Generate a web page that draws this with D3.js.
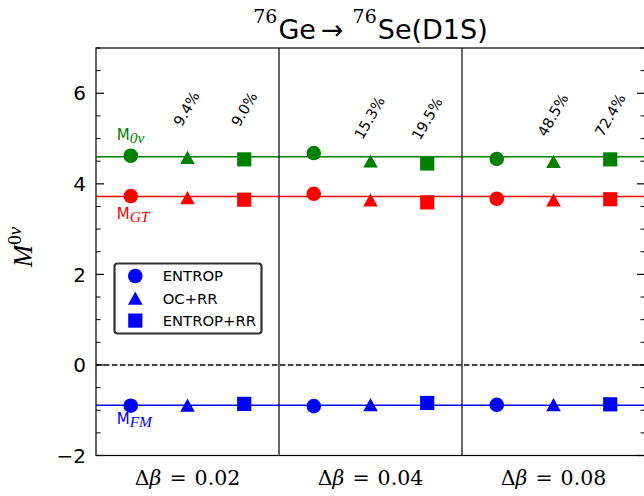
<!DOCTYPE html>
<html>
<head>
<meta charset="utf-8">
<script src="https://cdn.jsdelivr.net/npm/d3@7"></script>
<style>
  body { margin: 0; background: #fff; }
  svg { display: block; }
</style>
</head>
<body>
<svg id="chart" width="644" height="496"></svg>
<script>
// ---------------- data ----------------
const sections = ["0.02", "0.04", "0.08"];           // Δβ values
const methods = ["ENTROP", "OC+RR", "ENTROP+RR"];
const methodOffsets = [0.19, 0.5, 0.81];              // position of each method inside a section
const M0nu = [[4.62, 4.58, 4.54], [4.68, 4.50, 4.45], [4.55, 4.49, 4.54]];
const MGT  = [[3.73, 3.69, 3.65], [3.78, 3.64, 3.59], [3.67, 3.64, 3.66]];
const MFM  = [[-0.90, -0.89, -0.86], [-0.91, -0.88, -0.84], [-0.88, -0.88, -0.87]];
const refLines = { M0nu: 4.60, MGT: 3.72, MFM: -0.89 };
const pctLabels = ["9.4%", "9.0%", "15.3%", "19.5%", "48.5%", "72.4%"];
const pctX = [0.495, 0.81, 1.495, 1.81, 2.497, 2.81];
const pctY = [5.66, 5.65, 5.46, 5.44, 5.52, 5.52];
const yTicks = [-2, 0, 2, 4, 6];

// ---------------- layout ----------------
const svg = d3.select("#chart");
const L = 96, R = 645, T = 48, B = 455.5;
const x = d3.scaleLinear().domain([0, 3]).range([L, R]);
const y = d3.scaleLinear().domain([-2, 7]).range([B, T]);

const series = [
  { key: "M0nu", vals: M0nu, color: "#008000", main: "M", sub: "0ν", lx: 0.113, ly: 4.97 },
  { key: "MGT",  vals: MGT,  color: "#ff0000", main: "M", sub: "GT", lx: 0.113, ly: 3.22 },
  { key: "MFM",  vals: MFM,  color: "#0000ff", main: "M", sub: "FM", lx: 0.113, ly: -1.31 }
];

const shapes = [
  "M0,0m-7.3,0a7.3,7.3 0 1,0 14.6,0a7.3,7.3 0 1,0 -14.6,0Z",
  "M0,-6.8L7.3,6.4L-7.3,6.4Z",
  "M-7.1,-7.1H7.1V7.1H-7.1Z"
];

const g = svg.append("g");

// zero dashed line
g.append("line")
  .attr("x1", x(0)).attr("x2", x(3))
  .attr("y1", y(0)).attr("y2", y(0))
  .attr("stroke", "#000").attr("stroke-width", 1.5)
  .attr("stroke-dasharray", "5.5,2.5");

// reference horizontal lines
series.forEach(s => {
  g.append("line")
    .attr("x1", x(0)).attr("x2", x(3))
    .attr("y1", y(refLines[s.key])).attr("y2", y(refLines[s.key]))
    .attr("stroke", s.color).attr("stroke-width", 1.5);
});

// section dividers
[1, 2].forEach(v => {
  g.append("line")
    .attr("x1", x(v)).attr("x2", x(v))
    .attr("y1", y(7)).attr("y2", y(-2))
    .attr("stroke", "#000").attr("stroke-width", 1.2);
});

// markers
series.forEach(s => {
  s.vals.forEach((row, si) => {
    row.forEach((v, mi) => {
      g.append("path")
        .attr("d", shapes[mi])
        .attr("transform", `translate(${x(si + methodOffsets[mi])},${y(v)})`)
        .attr("fill", s.color);
    });
  });
});

// series labels
series.forEach(s => {
  const t = g.append("text")
    .attr("x", x(s.lx)).attr("y", y(s.ly))
    .attr("fill", s.color)
    .attr("font-family", "DejaVu Sans").attr("font-size", 15);
  t.append("tspan").text(s.main);
  t.append("tspan")
    .attr("dy", 3)
    .attr("font-family", "Liberation Serif").attr("font-style", "italic")
    .attr("font-size", 15.5)
    .text(s.sub);
});

// percentage labels
pctLabels.forEach((p, i) => {
  g.append("text")
    .attr("transform", `translate(${x(pctX[i])},${y(pctY[i])}) rotate(-60)`)
    .attr("text-anchor", "middle")
    .attr("dy", "0.35em")
    .attr("font-family", "DejaVu Sans").attr("font-size", 14.5)
    .attr("fill", "#000")
    .text(p);
});

// axes frame
g.append("rect")
  .attr("x", L).attr("y", T).attr("width", R - L).attr("height", B - T)
  .attr("fill", "none").attr("stroke", "#000").attr("stroke-width", 1.2);

// y ticks (inward, both sides)
const major = yTicks;
const minor = d3.range(-2, 7.01, 0.5).filter(v => !major.includes(v));
major.forEach(v => {
  g.append("line").attr("x1", L).attr("x2", L + 8).attr("y1", y(v)).attr("y2", y(v)).attr("stroke", "#000").attr("stroke-width", 1.2);
  g.append("line").attr("x1", R - 8).attr("x2", R).attr("y1", y(v)).attr("y2", y(v)).attr("stroke", "#000").attr("stroke-width", 1.2);
  g.append("text")
    .attr("x", L - 10).attr("y", y(v)).attr("dy", "0.36em")
    .attr("text-anchor", "end")
    .attr("font-family", "DejaVu Sans").attr("font-size", 20)
    .text(v < 0 ? "\u2212" + Math.abs(v) : String(v));
});
minor.forEach(v => {
  g.append("line").attr("x1", L).attr("x2", L + 4.5).attr("y1", y(v)).attr("y2", y(v)).attr("stroke", "#000").attr("stroke-width", 1);
  g.append("line").attr("x1", R - 4.5).attr("x2", R).attr("y1", y(v)).attr("y2", y(v)).attr("stroke", "#000").attr("stroke-width", 1);
});

// x section labels
sections.forEach((s, i) => {
  const t = g.append("text")
    .attr("x", x(i + 0.5)).attr("y", 485)
    .attr("text-anchor", "middle")
    .attr("font-family", "DejaVu Serif").attr("font-size", 20.5)
    .attr("fill", "#000");
  t.append("tspan").text("Δ");
  t.append("tspan").attr("font-style", "italic").text("β");
  t.append("tspan").attr("dx", 8).text("=");
  t.append("tspan").attr("dx", 8).text(s);
});

// y label
const yl = svg.append("text")
  .attr("transform", "translate(32,247) rotate(-90)")
  .attr("text-anchor", "middle")
  .attr("font-family", "Liberation Serif").attr("font-style", "italic")
  .attr("font-size", 27).attr("fill", "#000");
yl.append("tspan").text("M");
yl.append("tspan").attr("dy", -11).attr("font-size", 19).attr("font-style", "normal").text("0");
yl.append("tspan").attr("font-size", 19).text("ν");

// title
const tt = svg.append("text")
  .attr("x", (L + R) / 2).attr("y", 39)
  .attr("text-anchor", "middle")
  .attr("font-family", "DejaVu Sans").attr("font-size", 27).attr("fill", "#000");
tt.append("tspan").attr("dy", -16).attr("font-size", 19).attr("font-family", "DejaVu Serif").text("76");
tt.append("tspan").attr("dy", 16).attr("dx", 1).text("Ge");
tt.append("tspan").attr("dx", 5).text("\u2192");
tt.append("tspan").attr("dx", 9).attr("dy", -16).attr("font-size", 19).attr("font-family", "DejaVu Serif").text("76");
tt.append("tspan").attr("dy", 16).attr("dx", 1).text("Se(D1S)");

// legend
const lg = svg.append("g");
lg.append("rect")
  .attr("x", 114.5).attr("y", 263.5).attr("width", 147).attr("height", 70)
  .attr("rx", 3).attr("fill", "#fff").attr("fill-opacity", 0.8)
  .attr("stroke", "#333").attr("stroke-width", 2.2);
methods.forEach((m, i) => {
  const yy = 276 + i * 22.3;
  lg.append("path").attr("d", shapes[i]).attr("transform", `translate(135.3,${yy})`).attr("fill", "#0000ff");
  lg.append("text")
    .attr("x", 162.7).attr("y", yy).attr("dy", "0.36em")
    .attr("font-family", "DejaVu Sans").attr("font-size", 14.8)
    .text(m);
});
</script>
</body>
</html>
